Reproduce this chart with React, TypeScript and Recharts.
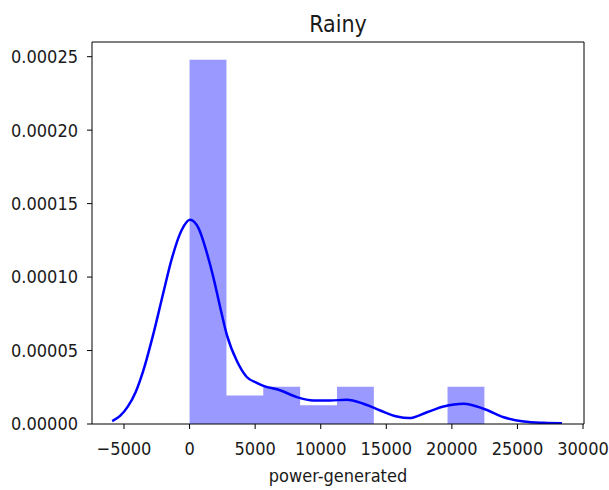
import React from "react";
import { ComposedChart, Area, Line, XAxis, YAxis, ReferenceLine } from "recharts";

// histogram bins (density)
const binEdges = [0, 2810, 5620, 8430, 11240, 14050, 16860, 19670, 22480];
const binDensity = [0.000248, 0.0000194, 0.0000253, 0.0000127, 0.0000253, 0, 0, 0.0000253];

// kde curve
const kdeX = [-5900, -5300, -4700, -4100, -3540, -2770, -2010, -1370, -600, 30, 700, 1300, 1810, 2320, 2830, 3600, 4360, 5120, 5630, 6900, 8180, 9440, 10720, 11990, 13260, 14540, 15810, 16750, 18100, 19370, 20900, 22420, 23950, 25480, 27000, 28400];
const kdeY = [0.000002, 0.0000055, 0.000012, 0.000022, 0.000036, 0.000061, 0.000089, 0.000112, 0.000132, 0.000139, 0.000133, 0.000117, 0.0001, 0.00008, 0.000061, 0.000043, 0.000032, 0.000028, 0.000026, 0.000023, 0.0000183, 0.000016, 0.000016, 0.0000165, 0.0000138, 0.0000092, 0.0000051, 0.000004, 0.000008, 0.0000119, 0.0000138, 0.0000104, 0.0000046, 0.0000017, 0.0000008, 0.0000005];

const xTicks = [-5000, 0, 5000, 10000, 15000, 20000, 25000, 30000];
const yTicks = [0, 0.00005, 0.0001, 0.00015, 0.0002, 0.00025];

const xMin = -7440;
const xMax = 30075;
const yMax = 0.00026;

const font = "'DejaVu Sans Condensed', 'DejaVu Sans', sans-serif";
const ink = "#1a1a1a";

const histData = binEdges.map((x, i) => ({ x, density: binDensity[Math.min(i, binDensity.length - 1)] }));
const kdeData = kdeX.map((x, i) => ({ x, density: kdeY[i] }));

const fmtX = (v: number) => (v < 0 ? "\u2212" + Math.abs(v) : String(v));

export default function App() {
  return (
    <div style={{ position: "absolute", left: 0, top: 0, width: 609, height: 490, background: "#fff" }}>
      <ComposedChart width={609} height={490} margin={{ top: 42, right: 25, bottom: 0, left: 0 }}>
        <XAxis
          dataKey="x"
          type="number"
          domain={[xMin, xMax]}
          allowDataOverflow
          ticks={xTicks}
          tickFormatter={fmtX}
          height={66}
          tickSize={5}
          tickMargin={13}
          stroke="#000"
          tick={{ fontSize: 18, fontFamily: font, fill: ink }}
          label={{ value: "power-generated", position: "insideBottom", offset: 8, fontSize: 18, fontFamily: font, fill: ink }}
        />
        <YAxis
          type="number"
          domain={[0, yMax]}
          allowDataOverflow
          ticks={yTicks}
          tickFormatter={(v: number) => v.toFixed(5)}
          width={92}
          tickSize={5}
          tickMargin={9}
          stroke="#000"
          tick={{ fontSize: 18, fontFamily: font, fill: ink }}
        />
        <Area
          data={histData}
          dataKey="density"
          type="stepAfter"
          fill="#9999ff"
          fillOpacity={1}
          stroke="none"
          isAnimationActive={false}
        />
        <Line
          data={kdeData}
          dataKey="density"
          type="monotone"
          stroke="#0000ff"
          strokeWidth={2.5}
          dot={false}
          isAnimationActive={false}
        />
        <ReferenceLine y={yMax} stroke="#000" />
        <ReferenceLine x={xMax} stroke="#000" />
      </ComposedChart>
      <svg width={609} height={490} style={{ position: "absolute", left: 0, top: 0, pointerEvents: "none" }}>
        <text x={338} y={32} textAnchor="middle" fontSize={23} fontFamily={font} fill={ink}>
          Rainy
        </text>
      </svg>
    </div>
  );
}
